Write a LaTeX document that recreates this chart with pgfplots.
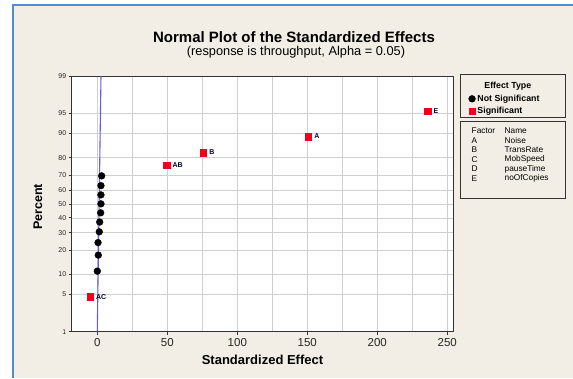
\documentclass[border=0pt]{standalone}
\usepackage{pgfplots}
\pgfplotsset{compat=1.18}
\usepackage{fontspec}
\setmainfont{Liberation Sans}
\definecolor{bg}{HTML}{F2EEE5}
\definecolor{frameblue}{HTML}{4F8BD6}
\definecolor{fitblue}{RGB}{95,95,235}
\definecolor{gridc}{HTML}{CFCFCF}
\definecolor{sigred}{RGB}{240,0,30}
\begin{document}
\begin{tikzpicture}[x=1pt,y=1pt]
\useasboundingbox (0,0) rectangle (573,378);
\fill[white] (0,0) rectangle (573,378);
\fill[bg] (13,0) rectangle (573,373);
\draw[frameblue, line width=2pt] (13,0) -- (13,373) -- (573,373);
\node[font=\fontsize{15}{16}\selectfont\bfseries] at (294,341) {Normal Plot of the Standardized Effects};
\node[font=\fontsize{12.8}{14}\selectfont] at (296,326) {(response is throughput, Alpha = 0.05)};
\node[rotate=90, font=\fontsize{12.5}{15}\selectfont\bfseries] at (38,171) {Percent};
\begin{axis}[
  at={(71.7pt,46.3pt)}, anchor=south west,
  scale only axis, width=381.6pt, height=255.7pt,
  xmin=-18.3, xmax=254.3, ymin=-2.326, ymax=2.326,
  axis background/.style={fill=white},
  axis line style={black!80, line width=0.9pt},
  xtick={0,50,100,150,200,250}, minor xtick={25,75,125,175,225},
  ytick={-2.326,-1.645,-1.2816,-0.8416,-0.5244,-0.2533,0,0.2533,0.5244,0.8416,1.2816,1.645,2.326},
  yticklabels={1,5,10,20,30,40,50,60,70,80,90,95,99},
  grid=both, grid style={gridc, line width=0.5pt}, minor grid style={gridc, line width=0.5pt},
  tick align=outside, xtick pos=bottom, ytick pos=left,
  major tick length=3pt, minor tick length=0pt,
  tick style={black!80, line width=0.7pt},
  /pgf/number format/assume math mode=true,
  xticklabel style={font=\fontsize{11.5}{13}\selectfont, text=black!85},
  yticklabel style={font=\fontsize{7}{8}\selectfont, text=black!85, xshift=1pt},
  xlabel={\bfseries Standardized Effect},
  xlabel style={font=\fontsize{13}{15}\selectfont, at={(axis description cs:0.5,0)}, anchor=center, yshift=-28pt},
  legend style={at={(1,1)}, anchor=north west, xshift=9pt, yshift=-3pt, draw=none, fill=none,
    font=\fontsize{8.8}{9.5}\selectfont, row sep=0.8pt, inner sep=1pt},
  legend cell align=left,
  clip=false,
]
\addlegendimage{empty legend}
\addlegendentry{\hspace{7pt}\bfseries Effect Type}
% fitted normal line
\addplot[fitblue, line width=1.1pt, forget plot] coordinates {(-0.03,-2.326) (2.63,2.326)};
% not significant effects
\addplot[only marks, mark=*, mark size=3.4pt, black] table {
x y
0.0 -1.224
0.7 -0.933
0.5 -0.705
1.4 -0.509
1.7 -0.331
2.4 -0.163
2.6 0.000
2.6 0.163
2.6 0.331
3.1 0.509
};
\addlegendentry{\bfseries Not Significant}
% significant effects
\addplot[only marks, mark=square*, mark size=3.2pt, sigred,
  nodes near coords, point meta=explicit symbolic,
  nodes near coords style={anchor=west, xshift=2.5pt, text=black!85!blue, font=\fontsize{7}{8}\selectfont\bfseries}]
  table[meta=label] {
x y label
-5.2 -1.690 AC
49.5 0.705 AB
75.7 0.933 B
150.7 1.224 A
236.0 1.690 E
};
\addlegendentry{\bfseries Significant}
\end{axis}
\draw[black!80, line width=1pt] (460,303) rectangle (565,260);
\draw[black!80, line width=1pt] (460,256.3) rectangle (565,179.7);
\foreach \f/\n/\yy in {Factor/Name/247, A/Noise/237.5, B/TransRate/228, C/MobSpeed/218.4, D/pauseTime/208.9, E/noOfCopies/199.3}{
  \node[anchor=west, inner sep=0pt, font=\fontsize{8.3}{9.6}\selectfont] at (471.5,\yy) {\f};
  \node[anchor=west, inner sep=0pt, font=\fontsize{8.3}{9.6}\selectfont] at (504.5,\yy) {\n};
}
\end{tikzpicture}
\end{document}
